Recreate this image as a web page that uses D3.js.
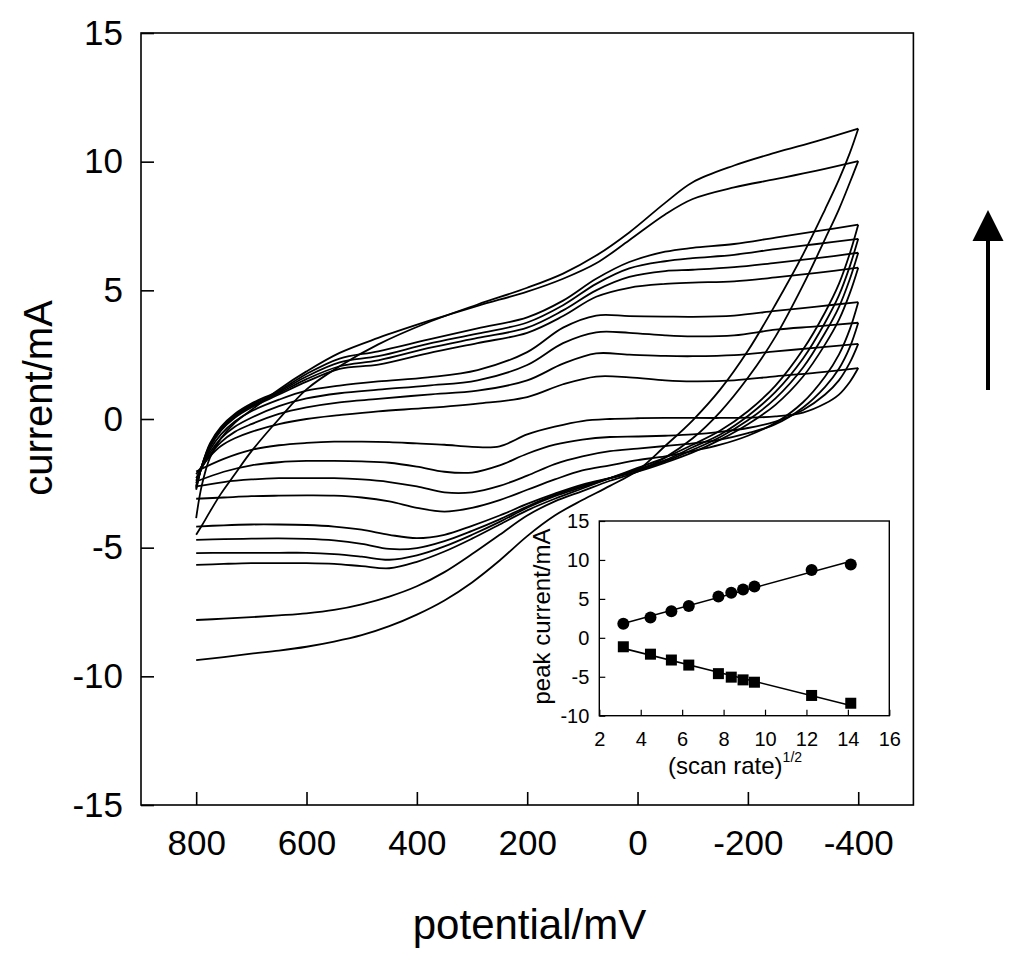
<!DOCTYPE html>
<html lang="en">
<head>
<meta charset="UTF-8">
<title>Cyclic voltammograms</title>
<script src="https://cdnjs.cloudflare.com/ajax/libs/d3/7.8.5/d3.min.js"></script>
<style>
  body { margin: 0; background: #fff; }
  svg { display: block; font-family: "Liberation Sans", Arial, sans-serif; }
</style>
</head>
<body>
<svg id="chart" width="1024" height="962"></svg>
<script>
// scan rates, mV/s
var scanRates = [10, 20, 30, 40, 60, 70, 80, 90, 150, 200];

// potentials (mV) where the forward (800 -> -400) and return (-400 -> 800) sweeps were read
var fwdPotential = [800, 790, 775, 755, 730, 700, 650, 600, 540, 470, 380, 290, 200, 135, 75, 15, -50, -100, -175, -250, -325, -400];
var revPotential = [-400, -385, -365, -340, -300, -250, -200, -150, -100, -50, 0, 50, 100, 150, 200, 250, 300, 350, 400, 450, 500, 550, 600, 650, 700, 750, 800];

// current (mA), forward sweep
var fwd10  = [-2.15, -1.85, -1.45, -1.05, -0.75, -0.5, -0.2, 0.0, 0.15, 0.3, 0.43, 0.6, 0.85, 1.35, 1.65, 1.62, 1.5, 1.46, 1.5, 1.66, 1.8, 1.98];
var fwd20  = [-2.3, -1.9, -1.4, -0.9, -0.5, -0.2, 0.2, 0.45, 0.65, 0.78, 0.95, 1.1, 1.5, 2.15, 2.55, 2.5, 2.45, 2.44, 2.48, 2.63, 2.77, 2.92];
var fwd30  = [-2.4, -1.9, -1.3, -0.75, -0.3, 0.05, 0.5, 0.8, 1.0, 1.14, 1.3, 1.5, 2.1, 2.95, 3.37, 3.35, 3.25, 3.21, 3.25, 3.47, 3.6, 3.74];
var fwd40  = [-2.5, -1.9, -1.2, -0.6, -0.1, 0.3, 0.75, 1.1, 1.3, 1.46, 1.62, 1.9, 2.6, 3.55, 4.02, 4.0, 3.98, 3.97, 4.02, 4.2, 4.37, 4.54];
var fwd60  = [-2.6, -1.85, -1.1, -0.45, 0.05, 0.45, 0.95, 1.45, 1.95, 2.11, 2.55, 2.95, 3.35, 4.0, 4.75, 5.1, 5.25, 5.3, 5.35, 5.5, 5.68, 5.88];
var fwd70  = [-2.65, -1.85, -1.05, -0.4, 0.1, 0.5, 1.0, 1.55, 2.05, 2.28, 2.75, 3.15, 3.55, 4.22, 5.0, 5.52, 5.75, 5.8, 5.9, 6.07, 6.25, 6.46];
var fwd80  = [-2.7, -1.85, -1.0, -0.35, 0.15, 0.55, 1.05, 1.65, 2.2, 2.44, 2.92, 3.32, 3.75, 4.42, 5.25, 5.85, 6.13, 6.25, 6.38, 6.6, 6.8, 7.0];
var fwd90  = [-2.75, -1.85, -0.95, -0.3, 0.2, 0.6, 1.1, 1.75, 2.35, 2.63, 3.08, 3.52, 3.95, 4.6, 5.45, 6.1, 6.5, 6.65, 6.8, 7.05, 7.3, 7.55];
var fwd150 = [-3.85, -2.6, -1.5, -0.75, -0.15, 0.35, 1.15, 1.85, 2.57, 3.15, 3.8, 4.4, 4.95, 5.45, 6.05, 6.95, 7.95, 8.55, 9.0, 9.32, 9.65, 10.02];
var fwd200 = [-4.5, -4.15, -3.6, -2.9, -2.15, -1.26, 0.0, 1.15, 2.05, 2.9, 3.75, 4.45, 5.1, 5.65, 6.35, 7.25, 8.4, 9.2, 9.85, 10.35, 10.8, 11.28];

// current (mA), return sweep
var rev10  = [1.98, 1.45, 0.95, 0.6, 0.25, 0.1, 0.05, 0.04, 0.04, 0.04, 0.03, 0.0, -0.08, -0.3, -0.6, -1.06, -1.08, -1.0, -0.95, -0.9, -0.88, -0.88, -0.93, -1.02, -1.2, -1.55, -2.04];
var rev20  = [2.92, 2.2, 1.5, 0.95, 0.35, -0.1, -0.35, -0.5, -0.6, -0.65, -0.68, -0.7, -0.8, -1.0, -1.35, -1.8, -2.08, -2.05, -1.85, -1.7, -1.65, -1.63, -1.63, -1.68, -1.8, -2.05, -2.43];
var rev30  = [3.74, 2.8, 1.95, 1.25, 0.45, -0.2, -0.55, -0.8, -0.95, -1.05, -1.15, -1.25, -1.45, -1.75, -2.2, -2.6, -2.85, -2.85, -2.62, -2.45, -2.35, -2.3, -2.3, -2.3, -2.35, -2.45, -2.62];
var rev40  = [4.54, 3.5, 2.5, 1.65, 0.65, -0.15, -0.65, -1.0, -1.25, -1.45, -1.6, -1.8, -2.0, -2.35, -2.75, -3.15, -3.45, -3.6, -3.45, -3.2, -3.05, -2.98, -2.97, -2.98, -3.0, -3.05, -3.1];
var rev60  = [5.88, 4.9, 3.85, 2.9, 1.65, 0.55, -0.2, -0.8, -1.3, -1.7, -2.05, -2.3, -2.55, -2.9, -3.3, -3.75, -4.15, -4.5, -4.63, -4.5, -4.3, -4.18, -4.12, -4.1, -4.1, -4.13, -4.18];
var rev70  = [6.46, 5.45, 4.35, 3.35, 2.0, 0.8, -0.05, -0.7, -1.2, -1.65, -2.0, -2.3, -2.6, -2.95, -3.4, -3.9, -4.35, -4.75, -5.02, -5.05, -4.85, -4.72, -4.66, -4.64, -4.65, -4.67, -4.7];
var rev80  = [7.0, 5.95, 4.8, 3.75, 2.35, 1.05, 0.12, -0.6, -1.1, -1.6, -1.95, -2.3, -2.65, -3.0, -3.45, -4.0, -4.5, -4.95, -5.3, -5.47, -5.35, -5.25, -5.2, -5.2, -5.2, -5.2, -5.21];
var rev90  = [7.55, 6.45, 5.25, 4.15, 2.7, 1.3, 0.3, -0.45, -1.0, -1.5, -1.9, -2.3, -2.7, -3.1, -3.55, -4.1, -4.65, -5.15, -5.55, -5.8, -5.72, -5.63, -5.6, -5.6, -5.6, -5.63, -5.67];
var rev150 = [10.02, 9.2, 8.15, 7.0, 5.2, 3.2, 1.6, 0.28, -0.75, -1.5, -2.05, -2.4, -2.8, -3.2, -3.75, -4.5, -5.25, -5.95, -6.5, -6.9, -7.2, -7.42, -7.55, -7.63, -7.7, -7.76, -7.81];
var rev200 = [11.28, 10.35, 9.3, 8.15, 6.4, 4.45, 2.65, 1.15, -0.05, -1.05, -2.0, -2.6, -3.15, -3.75, -4.55, -5.5, -6.35, -7.05, -7.6, -8.05, -8.4, -8.65, -8.85, -9.0, -9.12, -9.25, -9.37];

// inset: peak currents against (scan rate)^1/2
var sqrtRate = [3.16, 4.47, 5.48, 6.32, 7.75, 8.37, 8.94, 9.49, 12.25, 14.14];
var anodicPeak = [1.8, 2.6, 3.4, 4.1, 5.3, 5.8, 6.2, 6.6, 8.7, 9.4];
var cathodicPeak = [-1.15, -2.1, -2.85, -3.5, -4.6, -5.05, -5.4, -5.7, -7.4, -8.4];

var potentialTicks = [800, 600, 400, 200, 0, -200, -400];
var currentTicks = [-15, -10, -5, 0, 5, 10, 15];
var insetXTicks = [2, 4, 6, 8, 10, 12, 14, 16];
var insetYTicks = [-10, -5, 0, 5, 10, 15];

var fwdSeries = [fwd10, fwd20, fwd30, fwd40, fwd60, fwd70, fwd80, fwd90, fwd150, fwd200];
var revSeries = [rev10, rev20, rev30, rev40, rev60, rev70, rev80, rev90, rev150, rev200];

var svg = d3.select('#chart');
var plain = function(d) { return String(d); };   // hyphen minus, like the original

// ---- main plot ----
var x = d3.scaleLinear().domain([900, -500]).range([141, 913.4]);
var y = d3.scaleLinear().domain([-15, 15]).range([805, 33]);

var cvLine = d3.line()
    .x(function(d) { return x(d[0]); })
    .y(function(d) { return y(d[1]); })
    .curve(d3.curveCatmullRom.alpha(0.5));

var curves = svg.append('g');
scanRates.forEach(function(rate, i) {
    var fwd = d3.zip(fwdPotential, fwdSeries[i]);
    var rev = d3.zip(revPotential, revSeries[i]);
    curves.append('path').attr('d', cvLine(fwd))
        .attr('fill', 'none').attr('stroke', '#000').attr('stroke-width', 1.8);
    curves.append('path').attr('d', cvLine(rev))
        .attr('fill', 'none').attr('stroke', '#000').attr('stroke-width', 1.8);
});

var xAxis = svg.append('g').attr('transform', 'translate(0,805)')
    .call(d3.axisBottom(x).tickValues(potentialTicks).tickFormat(plain)
        .tickSizeInner(-13).tickSizeOuter(0).tickPadding(25));
var yAxis = svg.append('g').attr('transform', 'translate(141,0)')
    .call(d3.axisLeft(y).tickValues(currentTicks).tickFormat(plain)
        .tickSizeInner(-13).tickSizeOuter(0).tickPadding(18));

[xAxis, yAxis].forEach(function(g) {
    g.select('.domain').remove();
    g.selectAll('.tick line').attr('stroke', '#000').attr('stroke-width', 1.6);
    g.selectAll('.tick text').attr('font-size', 35).attr('fill', '#000')
        .attr('font-family', '"Liberation Sans", Arial, sans-serif');
});

svg.append('rect')
    .attr('x', x(900)).attr('y', y(15))
    .attr('width', x(-500) - x(900)).attr('height', y(-15) - y(15))
    .attr('fill', 'none').attr('stroke', '#000').attr('stroke-width', 1.6);

svg.append('text')
    .attr('x', 529.5).attr('y', 938.6)
    .attr('text-anchor', 'middle').attr('font-size', 42)
    .text('potential/mV');

svg.append('text')
    .attr('transform', 'translate(51.7,398) rotate(-90)')
    .attr('text-anchor', 'middle').attr('font-size', 40)
    .text('current/mA');

// arrow: direction of increasing scan rate
svg.append('line')
    .attr('x1', 988).attr('y1', 390).attr('x2', 988).attr('y2', 236)
    .attr('stroke', '#000').attr('stroke-width', 4);
svg.append('path')
    .attr('d', 'M988,210 L1003.5,241 L972.5,241 Z')
    .attr('fill', '#000');

// ---- inset ----
var ix = d3.scaleLinear().domain([2, 16]).range([599.3, 889.3]);
var iy = d3.scaleLinear().domain([-10, 15]).range([715.7, 521]);

svg.append('rect')
    .attr('x', ix(2)).attr('y', iy(15))
    .attr('width', ix(16) - ix(2)).attr('height', iy(-10) - iy(15))
    .attr('fill', '#fff').attr('stroke', 'none');

var ixAxis = svg.append('g').attr('transform', 'translate(0,' + iy(-10) + ')')
    .call(d3.axisBottom(ix).tickValues(insetXTicks).tickFormat(plain)
        .tickSizeInner(-6).tickSizeOuter(0).tickPadding(16));
var iyAxis = svg.append('g').attr('transform', 'translate(' + ix(2) + ',0)')
    .call(d3.axisLeft(iy).tickValues(insetYTicks).tickFormat(plain)
        .tickSizeInner(-6).tickSizeOuter(0).tickPadding(10));

[ixAxis, iyAxis].forEach(function(g) {
    g.select('.domain').remove();
    g.selectAll('.tick line').attr('stroke', '#000').attr('stroke-width', 1.2);
    g.selectAll('.tick text').attr('font-size', 20).attr('fill', '#000')
        .attr('font-family', '"Liberation Sans", Arial, sans-serif');
});

svg.append('rect')
    .attr('x', ix(2)).attr('y', iy(15))
    .attr('width', ix(16) - ix(2)).attr('height', iy(-10) - iy(15))
    .attr('fill', 'none').attr('stroke', '#000').attr('stroke-width', 1.4);

// least squares line through each peak series
function fit(xs, ys) {
    var mx = d3.mean(xs), my = d3.mean(ys);
    var sxy = d3.sum(xs, function(v, k) { return (v - mx) * (ys[k] - my); });
    var sxx = d3.sum(xs, function(v) { return (v - mx) * (v - mx); });
    var b = sxy / sxx;
    return function(v) { return my + b * (v - mx); };
}

[anodicPeak, cathodicPeak].forEach(function(ys) {
    var f = fit(sqrtRate, ys);
    var x0 = sqrtRate[0], x1 = sqrtRate[sqrtRate.length - 1];
    svg.append('line')
        .attr('x1', ix(x0)).attr('y1', iy(f(x0)))
        .attr('x2', ix(x1)).attr('y2', iy(f(x1)))
        .attr('stroke', '#000').attr('stroke-width', 1.6);
});

svg.append('g').selectAll('circle')
    .data(d3.zip(sqrtRate, anodicPeak))
    .join('circle')
    .attr('cx', function(d) { return ix(d[0]); })
    .attr('cy', function(d) { return iy(d[1]); })
    .attr('r', 6).attr('fill', '#000');

svg.append('g').selectAll('rect')
    .data(d3.zip(sqrtRate, cathodicPeak))
    .join('rect')
    .attr('x', function(d) { return ix(d[0]) - 5.5; })
    .attr('y', function(d) { return iy(d[1]) - 5.5; })
    .attr('width', 11).attr('height', 11).attr('fill', '#000');

svg.append('text')
    .attr('transform', 'translate(550,616.5) rotate(-90)')
    .attr('text-anchor', 'middle').attr('font-size', 24)
    .text('peak current/mA');

var xt = svg.append('text')
    .attr('x', 735).attr('y', 774)
    .attr('text-anchor', 'middle').attr('font-size', 24);
xt.append('tspan').text('(scan rate)');
xt.append('tspan').attr('font-size', 14).attr('dy', -12).text('1/2');
</script>
</body>
</html>
